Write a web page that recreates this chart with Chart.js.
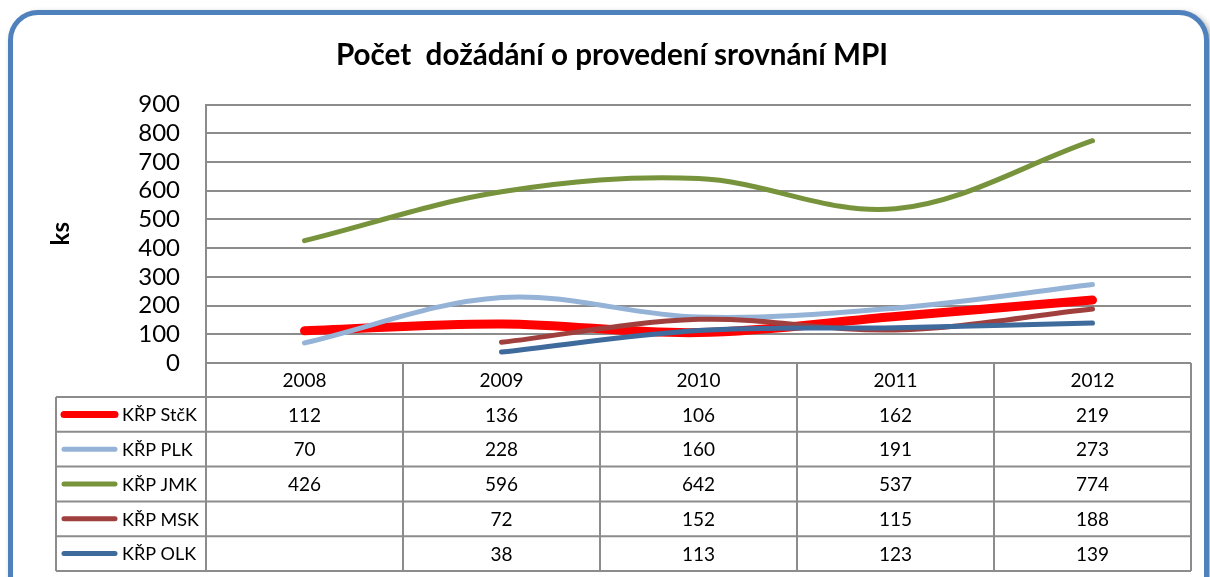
<!DOCTYPE html>
<html>
<head>
<meta charset="utf-8">
<script src="https://cdn.jsdelivr.net/npm/chart.js@4"></script>
<style>
html, body { margin: 0; padding: 0; background: #fff; }
#wrap { position: relative; width: 1210px; height: 577px; overflow: hidden; }
#frame { position: absolute; left: 8px; top: 10px; width: 1191px; height: 620px; border: 5px solid #4f81bd; border-radius: 30px; box-shadow: 3px 3px 6px rgba(0,0,0,0.35); background: #fff; }
#c { position: absolute; left: 0; top: 0; }
</style>
</head>
<body>
<div id="wrap">
   <div id="frame"></div>
   <canvas id="c" width="1210" height="577"></canvas>
</div>
<script>
const years = ['2008', '2009', '2010', '2011', '2012'];
const names = ['KŘP StčK', 'KŘP PLK', 'KŘP JMK', 'KŘP MSK', 'KŘP OLK'];
const stck = [112, 136, 106, 162, 219];
const plk = [70, 228, 160, 191, 273];
const jmk = [426, 596, 642, 537, 774];
const msk = [null, 72, 152, 115, 188];
const olk = [null, 38, 113, 123, 139];
const yTicks = [0, 100, 200, 300, 400, 500, 600, 700, 800, 900];

const series = [stck, plk, jmk, msk, olk];
const colors = ['#ff0000', '#95b3d7', '#77933c', '#a0403e', '#3e6a9c'];
const widths = [9, 5, 5, 5, 5];
const FONT = 'Lato, "Open Sans", sans-serif';

// data table under the plot, drawn on the canvas
const tablePlugin = {
    id: 'dataTable',
    afterDraw(chart) {
        const ctx = chart.ctx;
        const x = chart.scales.x;
        const area = chart.chartArea;
        const step = x.getPixelForValue(1) - x.getPixelForValue(0);
        const top = area.bottom;
        const headH = 34, rowH = 34.8;
        const left = area.left - 150;
        const bottom = top + headH + rowH * names.length;
        ctx.save();
        ctx.strokeStyle = '#8c8c8c';
        ctx.lineWidth = 2;
        ctx.beginPath();
        for (let r = 0; r <= names.length; r++) {
            const y = top + headH + r * rowH;
            ctx.moveTo(left, y);
            ctx.lineTo(area.right, y);
        }
        for (let i = 0; i <= years.length; i++) {
            const xx = area.left + i * step;
            ctx.moveTo(xx, top);
            ctx.lineTo(xx, bottom);
        }
        ctx.moveTo(left, top + headH);
        ctx.lineTo(left, bottom);
        ctx.stroke();

        ctx.fillStyle = '#000';
        ctx.font = '19px ' + FONT;
        ctx.textAlign = 'center';
        ctx.textBaseline = 'middle';
        years.forEach((yr, i) => {
            ctx.fillText(yr, x.getPixelForValue(i), top + headH / 2 + 1);
        });
        series.forEach((vals, r) => {
            const cy = top + headH + r * rowH + rowH / 2 + 1;
            vals.forEach((v, i) => {
                if (v !== null) ctx.fillText(String(v), x.getPixelForValue(i), cy);
            });
        });
        // legend keys
        ctx.textAlign = 'left';
        ctx.font = '18px ' + FONT;
        names.forEach((n, r) => {
            const cy = top + headH + r * rowH + rowH / 2;
            ctx.strokeStyle = colors[r];
            ctx.lineWidth = r === 0 ? 7 : 5;
            ctx.lineCap = 'round';
            ctx.beginPath();
            ctx.moveTo(left + 8, cy);
            ctx.lineTo(left + 59, cy);
            ctx.stroke();
            ctx.fillStyle = '#000';
            ctx.fillText(n, left + 66, cy + 1);
        });
        ctx.restore();
    }
};

const ctx = document.getElementById('c');
const chart = new Chart(ctx, {
    type: 'line',
    data: {
        labels: years,
        datasets: names.map((n, i) => ({
            label: n,
            data: series[i],
            borderColor: colors[i],
            backgroundColor: colors[i],
            borderWidth: widths[i],
            borderCapStyle: 'round',
            pointRadius: 0,
            tension: 0.35,
            fill: false,
            order: names.length - i,
        })),
    },
    options: {
        responsive: false,
        animation: false,
        layout: { padding: { left: 33, right: 19, top: 0, bottom: 0 } },
        scales: {
            x: {
                offset: true,
                ticks: { display: false },
                grid: { display: false },
                border: { display: false },
                afterFit: (scale) => { scale.height = 214; },
            },
            y: {
                min: 0,
                max: 900,
                afterBuildTicks: (scale) => { scale.ticks = yTicks.map((v) => ({ value: v })); },
                ticks: { color: '#000', font: { family: FONT, size: 24 }, padding: 26, autoSkip: false },
                grid: { color: '#8c8c8c', lineWidth: 2, drawTicks: false },
                border: { color: '#8c8c8c', width: 2 },
                title: {
                    display: true,
                    text: 'ks',
                    color: '#000',
                    font: { family: FONT, size: 24, weight: 'bold' },
                    padding: { top: 14, bottom: 0 },
                },
                afterFit: (scale) => { scale.width = 173; },
            },
        },
        plugins: {
            legend: { display: false },
            tooltip: { enabled: false },
            title: {
                display: true,
                text: 'Počet  dožádání o provedení srovnání MPI',
                color: '#000',
                font: { family: FONT, size: 29.6, weight: 'bold', lineHeight: 1.2 },
                padding: { top: 38, bottom: 31 },
            },
        },
    },
    plugins: [tablePlugin],
});
</script>
</body>
</html>
